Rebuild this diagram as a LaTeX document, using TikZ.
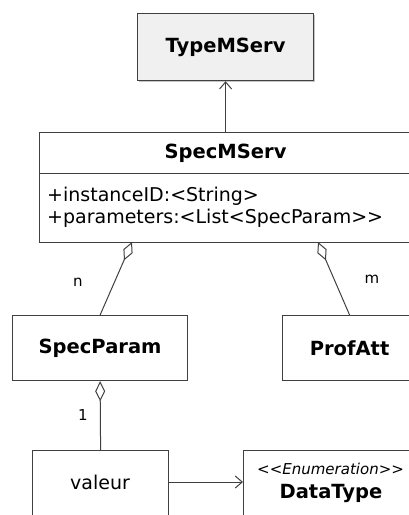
\documentclass[tikz,border=0pt]{standalone}
\usepackage{fontspec}
\setmainfont{DejaVu Sans}
\usetikzlibrary{arrows.meta}
\definecolor{edge}{HTML}{404040}
\definecolor{lightfill}{HTML}{F0F0F0}
\begin{document}
\begin{tikzpicture}[x=1pt,y=-1pt,
  box/.style={draw=edge,line width=1.2pt,rectangle,inner sep=0pt,anchor=north west},
  title/.style={font=\fontsize{19.5}{22}\selectfont\bfseries},
  plain/.style={font=\fontsize{19}{22}\selectfont,inner sep=0pt},
  mult/.style={font=\fontsize{15}{17}\selectfont},
  stereo/.style={font=\fontsize{15}{17}\selectfont\itshape},
  link/.style={draw=edge,line width=1pt},
  agg/.style={link,{Diamond[open,length=20pt,width=10pt,line width=1pt]}-},
  nav/.style={link,-{Straight Barb[length=7pt,width=12pt,line width=1pt]}}]
\useasboundingbox (0,0) rectangle (409,515);
\clip (0,0) rectangle (409,515);

% TypeMServ (grey class with a light shadow)
\fill[gray!45] (138.5,14.5) rectangle (314.5,81.5);
\node[box,fill=lightfill,minimum width=176,minimum height=67] (type) at (137,13) {};
\node[title] at (type.center) {TypeMServ};

% SpecMServ with its attribute compartment
\node[box,fill=white,minimum width=372,minimum height=41] (spec) at (39,132) {};
\node[title] at (spec.center) {SpecMServ};
\node[box,fill=white,minimum width=372,minimum height=69] (specattr) at (39,173) {};
\node[plain,anchor=base west] at (47,201) {+instanceID:<String>};
\node[plain,anchor=base west] at (47,223) {+parameters:<List<SpecParam>{}>};

% second row
\node[box,fill=white,minimum width=175,minimum height=65] (specparam) at (12,315) {};
\node[title] at (specparam.center) {SpecParam};
\node[box,fill=white,minimum width=134,minimum height=65] (profatt) at (282,315) {};
\node[title] at (profatt.center) {ProfAtt};

% third row
\node[box,fill=white,minimum width=136,minimum height=90] (valeur) at (32,450) {};
\node[plain] (valtxt) at (100,482) {valeur};
\node[box,fill=white,minimum width=176,minimum height=90] (datatype) at (243,450) {};
\node[stereo,anchor=base west,inner sep=0pt] at (257,474) {<{}<Enumeration>{}>};
\node[title] at (331,493) {DataType};

% connectors
\coordinate (aggL) at (132,242);
\coordinate (aggR) at (318,242);
\draw[nav] (spec.north) -- (type.south);
\draw[agg] (aggL) -- (specparam.north);
\draw[agg] (aggR) -- (profatt.north);
\draw[agg] (specparam.south) -- (valeur.north);
\draw[nav] (valeur.east |- valtxt) -- (datatype.west |- valtxt);

% multiplicities
\node[mult] at (78,282) {n};
\node[mult] at (372,279) {m};
\node[mult] at (83,415) {1};
\end{tikzpicture}
\end{document}
